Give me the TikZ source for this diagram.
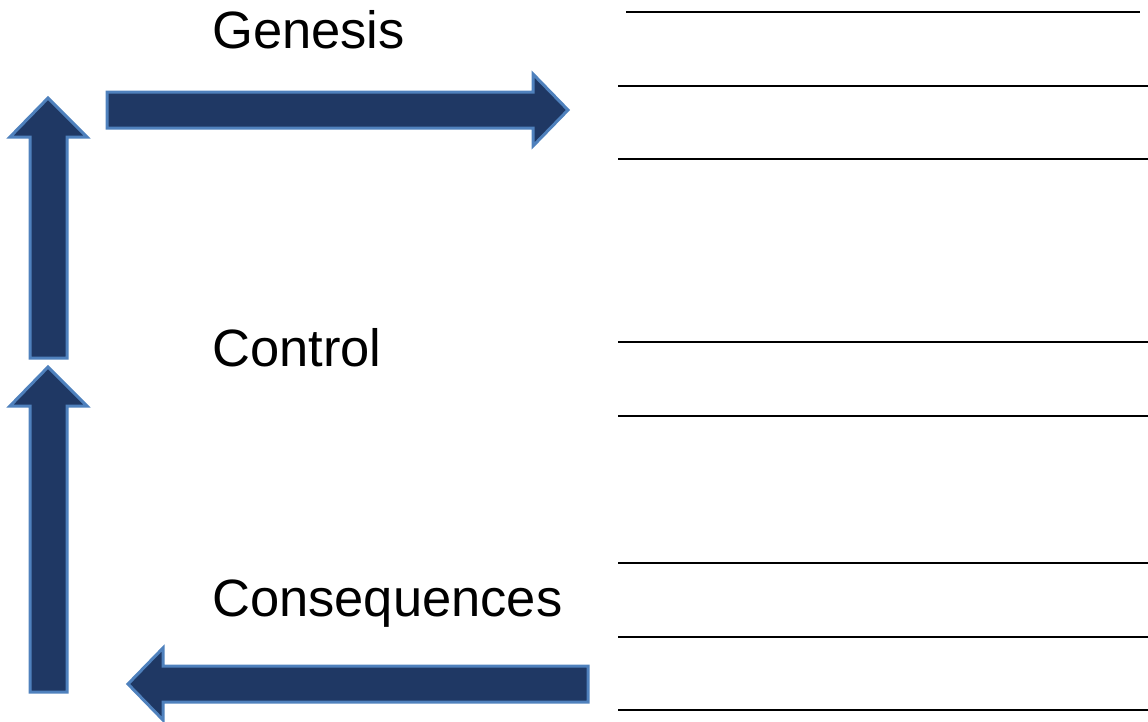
\documentclass[tikz,border=0pt]{standalone}
\usepackage{fontspec}
\setmainfont{Liberation Sans}
\definecolor{navy}{RGB}{31,56,100}
\definecolor{rim}{RGB}{79,129,189}
\begin{document}
\begin{tikzpicture}[x=1pt,y=-1pt,
  bigarrow/.style={fill=navy,draw=rim,line width=3pt,line join=miter},
  rule/.style={draw=black,line width=1.2pt},
  label/.style={anchor=base west,inner sep=0pt,font=\fontsize{52.5}{60}\selectfont}]
\useasboundingbox (0,0) rectangle (1148,721);
% text
\node[label] (gen) at (212,48) {Genesis};
\node[label] (con) at (212,366) {Control};
\node[label] (cons) at (212,616) {Consequences};
% arrows
\path[bigarrow] (30,358) -- (30,137) -- (10,137) -- (48,98) -- (87,137) -- (67,137) -- (67,358) -- cycle;
\path[bigarrow] (30,692) -- (30,406) -- (10,406) -- (48,367) -- (87,406) -- (67,406) -- (67,692) -- cycle;
\path[bigarrow] (107,92) -- (533,92) -- (533,74) -- (568,110) -- (533,146) -- (533,128) -- (107,128) -- cycle;
\path[bigarrow] (588,666) -- (163,666) -- (163,648) -- (128,684) -- (163,720) -- (163,702) -- (588,702) -- cycle;
% lines
\draw[rule] (626,12) -- (1140,12);
\foreach \y in {86,159,342,416,563,637,710}{
  \draw[rule] (618,\y) -- (1148,\y);
}
\end{tikzpicture}
\end{document}
